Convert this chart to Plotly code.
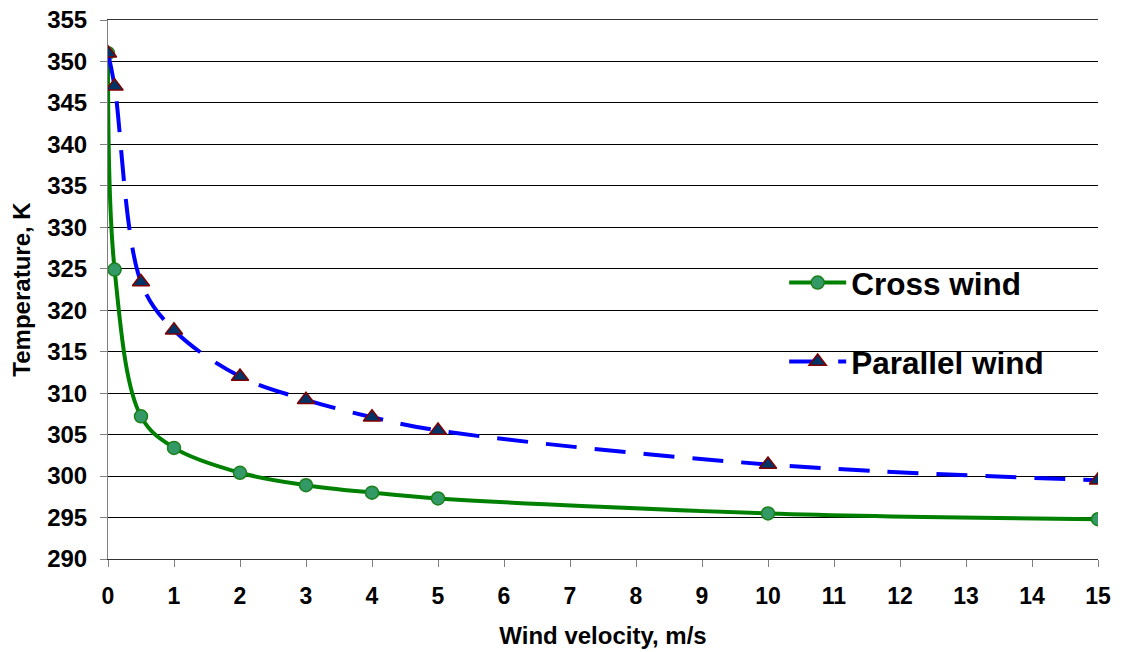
import plotly.graph_objects as go

# wind velocity, m/s
velocity = [0, 0.1, 0.5, 1, 2, 3, 4, 5, 10, 15]
# temperature, K
cross_wind = [351.0, 324.9, 307.2, 303.4, 300.4, 298.9, 298.0, 297.3, 295.5, 294.8]
parallel_wind = [351.0, 347.0, 323.4, 317.6, 312.0, 309.2, 307.1, 305.5, 301.4, 299.5]

x_ticks = list(range(0, 16))
y_ticks = list(range(290, 356, 5))

FONT = "Arial, Liberation Sans, sans-serif"

fig = go.Figure()

fig.add_trace(
    go.Scatter(
        x=velocity,
        y=cross_wind,
        name="Cross wind",
        mode="lines+markers",
        line=dict(color="#008000", width=4, shape="spline", smoothing=1),
        marker=dict(symbol="circle", size=13, color="#339966",
                    line=dict(color="#1a801a", width=1.5)),
        legendgroup="a",
    )
)

fig.add_trace(
    go.Scatter(
        x=velocity,
        y=parallel_wind,
        name="Parallel wind",
        mode="lines+markers",
        line=dict(color="#0000ff", width=4, shape="spline", smoothing=1, dash="31px,18px"),
        marker=dict(symbol="triangle-up", size=15, color="#003366",
                    line=dict(color="#800000", width=1.5)),
        legendgroup="b",
    )
)

# white panel behind the legend, as in the original
fig.add_shape(
    type="rect", xref="paper", yref="paper",
    x0=0.628, x1=1.0, y0=0.274, y1=0.589,
    fillcolor="white", line=dict(width=0), layer="between",
)

fig.update_layout(
    width=1122,
    height=652,
    margin=dict(l=100, r=32, t=12, b=101),
    paper_bgcolor="white",
    plot_bgcolor="white",
    font=dict(family=FONT, color="black"),
    showlegend=True,
    legend=dict(
        x=0.683, y=0.563, xanchor="left", yanchor="top",
        bgcolor="rgba(0,0,0,0)",
        font=dict(size=31.5, weight="bold"),
        itemwidth=57,
        tracegroupgap=35,
        traceorder="grouped",
    ),
    xaxis=dict(
        range=[0, 15],
        tickvals=x_ticks,
        showgrid=False,
        zeroline=False,
        showline=True,
        mirror=True,
        linecolor="#333333",
        linewidth=1,
        ticks="outside",
        ticklen=7,
        tickcolor="#808080",
        ticklabelstandoff=9,
        ticklabeloverflow="allow",
        tickfont=dict(size=23, weight="bold"),
        automargin=False,
        title=dict(text="Wind velocity, m/s", font=dict(size=24, weight="bold"), standoff=19),
    ),
    yaxis=dict(
        range=[290, 355],
        tickvals=y_ticks,
        showgrid=True,
        gridcolor="black",
        gridwidth=1,
        zeroline=False,
        showline=True,
        linecolor="#808080",
        ticks="outside",
        ticklen=7,
        tickcolor="#808080",
        ticklabelstandoff=8,
        ticklabeloverflow="allow",
        tickfont=dict(size=24, weight="bold"),
        automargin=False,
        title=dict(text="Temperature, K", font=dict(size=24, weight="bold"), standoff=12),
    ),
)

fig.write_html("out.html")
